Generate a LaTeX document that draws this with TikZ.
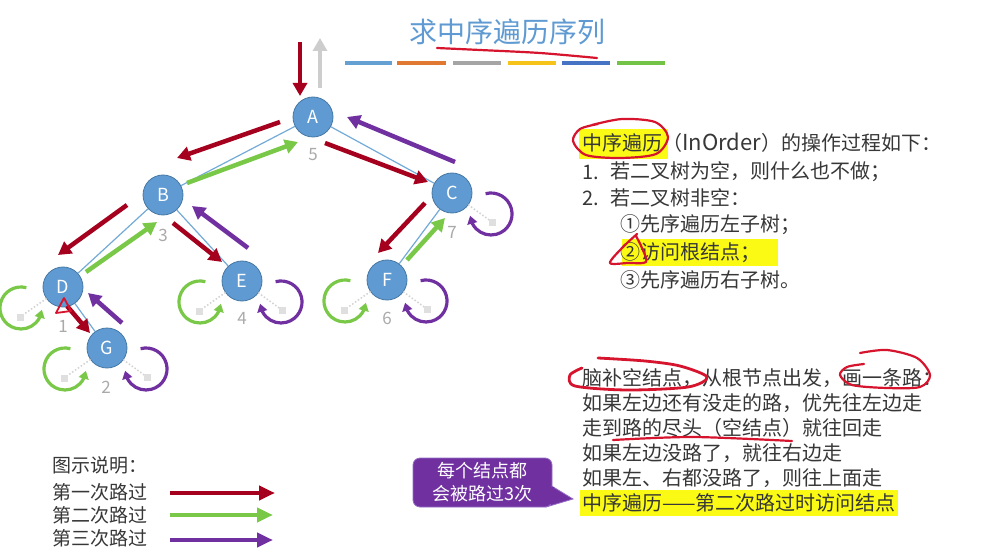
\documentclass[tikz,border=0pt]{standalone}
\usepackage{fontspec}
\setmainfont{Noto Sans CJK SC}
\usetikzlibrary{arrows.meta,calc,bending}
\definecolor{cred}{RGB}{165,0,30}
\definecolor{cgreen}{RGB}{122,200,72}
\definecolor{cpurple}{RGB}{112,48,160}
\definecolor{cgrayarr}{RGB}{205,205,205}
\definecolor{nodefill}{RGB}{95,155,210}
\definecolor{nodeline}{RGB}{70,120,165}
\definecolor{edgeblue}{RGB}{115,170,215}
\definecolor{numgray}{RGB}{170,170,170}
\definecolor{txtgray}{RGB}{55,55,55}
\definecolor{hlyellow}{RGB}{250,250,20}
\definecolor{inkred}{RGB}{215,20,45}
\definecolor{titleblue}{RGB}{95,155,210}
\definecolor{bubble}{RGB}{112,48,160}
\definecolor{bubbleline}{RGB}{150,110,200}
\definecolor{bar1}{RGB}{100,160,210}
\definecolor{bar2}{RGB}{225,120,50}
\definecolor{bar3}{RGB}{165,165,165}
\definecolor{bar4}{RGB}{245,195,25}
\definecolor{bar5}{RGB}{70,115,195}
\definecolor{bar6}{RGB}{115,195,70}
\tikzset{
  tnode/.style={circle, minimum size=40pt, inner sep=0pt, fill=nodefill, draw=nodeline, line width=0.8pt, text=white, font=\fontsize{18}{18}\selectfont},
  edge/.style={edgeblue, line width=1.2pt},
  trav/.style={line width=4.5pt, -{Triangle[length=13pt,width=14pt]}},
  loopst/.style={line width=3.2pt, -{Triangle[length=8pt,width=10pt,flex]}},
  nulldot/.style={gray!35, dotted, line width=1.5pt},
  nullsq/.style={fill=gray!25},
  num/.style={text=numgray, font=\fontsize{17}{17}\selectfont},
  txt/.style={anchor=west, inner sep=0pt, text=txtgray, font=\fontsize{20}{24}\selectfont},
  leg/.style={anchor=west, inner sep=0pt, text=txtgray, font=\fontsize{19}{22}\selectfont},
  ink/.style={inkred, line width=2.2pt, line cap=round, line join=round},
  hl/.style={fill=hlyellow},
  bar/.style={line width=4.5pt}
}
\newcommand\leftnull[1]{%
  \draw[nulldot] ($(#1)!20pt!($(#1)+(-43,30)$)$) -- ($(#1)+(-43,30)$);
  \fill[nullsq] ($(#1)+(-46.5,26.5)$) rectangle ($(#1)+(-39.5,33.5)$);
  \begin{scope}[y=1pt]
  \draw[loopst, cgreen] ($(#1)+(-42,-21)+(5.4,20.3)$) arc[start angle=75, end angle=355, radius=21];
  \end{scope}
}
\newcommand\rightnull[1]{%
  \draw[nulldot] ($(#1)!20pt!($(#1)+(40,29)$)$) -- ($(#1)+(40,29)$);
  \fill[nullsq] ($(#1)+(36.5,25.5)$) rectangle ($(#1)+(43.5,32.5)$);
  \begin{scope}[y=1pt]
  \draw[loopst, cpurple] ($(#1)+(39,-21)+(-5.4,20.3)$) arc[start angle=105, end angle=-175, radius=21];
  \end{scope}
}
\begin{document}
\begin{tikzpicture}[x=1pt,y=-1pt]
\useasboundingbox (0,0) rectangle (1002,559);
\fill[white] (0,0) rectangle (1002,559);

% title
\node[text=titleblue, font=\fontsize{28}{28}\selectfont] (title) at (507,32) {求中序遍历序列};
\draw[bar, bar1] (345,63) -- (392,63);
\draw[bar, bar2] (397,63) -- (446,63);
\draw[bar, bar3] (453,63) -- (501,63);
\draw[bar, bar4] (508,63) -- (556,63);
\draw[bar, bar5] (562,63) -- (610,63);
\draw[bar, bar6] (617,63) -- (665,63);
\draw[ink] plot[smooth] coordinates {(437,48) (480,50) (540,53) (597,58)};

% tree nodes
\node[tnode] (A) at (313,117) {A};
\node[tnode] (B) at (163,195) {B};
\node[tnode] (C) at (452,193) {C};
\node[tnode] (D) at (63,287) {D};
\node[tnode] (E) at (242,281) {E};
\node[tnode] (F) at (387,280) {F};
\node[tnode] (G) at (107,348) {G};

% edges
\draw[edge] (A) -- (B);
\draw[edge] (A) -- (C);
\draw[edge] (B) -- (D);
\draw[edge] (B) -- (E);
\draw[edge] (D) -- (G);
\draw[edge] (C) -- (F);

% numbers
\node[num] (n5) at (313,155) {5};
\node[num] (n3) at (163,235) {3};
\node[num] (n7) at (452,232) {7};
\node[num] (n1) at (63,326) {1};
\node[num] (n2) at (106,387) {2};
\node[num] (n4) at (242,318) {4};
\node[num] (n6) at (387,318) {6};

% traversal arrows
\coordinate (r0s) at (300,42);  \coordinate (r0e) at (300,96);
\coordinate (g0s) at (320,88);  \coordinate (g0e) at (320,38);
\coordinate (rABs) at (280,122); \coordinate (rABe) at (177,158);
\coordinate (gBAs) at (187,183); \coordinate (gBAe) at (298,142);
\coordinate (rACs) at (325,143); \coordinate (rACe) at (428,182);
\coordinate (pCAs) at (455,162); \coordinate (pCAe) at (347,117);
\coordinate (rBDs) at (127,205); \coordinate (rBDe) at (58,255);
\coordinate (gDBs) at (86,272);  \coordinate (gDBe) at (157,222);
\coordinate (rBEs) at (173,223); \coordinate (rBEe) at (222,262);
\coordinate (pEBs) at (248,248); \coordinate (pEBe) at (192,206);
\coordinate (rCFs) at (425,203); \coordinate (rCFe) at (378,253);
\coordinate (gFCs) at (407,260); \coordinate (gFCe) at (445,218);
\coordinate (rDGs) at (67,306);  \coordinate (rDGe) at (90,333);
\coordinate (pGDs) at (122,323); \coordinate (pGDe) at (88,293);
\draw[trav, cred] (r0s) -- (r0e);
\draw[trav, cgrayarr] (g0s) -- (g0e);
\draw[trav, cred] (rABs) -- (rABe);
\draw[trav, cgreen] (gBAs) -- (gBAe);
\draw[trav, cred] (rACs) -- (rACe);
\draw[trav, cpurple] (pCAs) -- (pCAe);
\draw[trav, cred] (rBDs) -- (rBDe);
\draw[trav, cgreen] (gDBs) -- (gDBe);
\draw[trav, cred] (rBEs) -- (rBEe);
\draw[trav, cpurple] (pEBs) -- (pEBe);
\draw[trav, cred] (rCFs) -- (rCFe);
\draw[trav, cgreen] (gFCs) -- (gFCe);
\draw[trav, cred] (rDGs) -- (rDGe);
\draw[trav, cpurple] (pGDs) -- (pGDe);

% null children loops
\leftnull{D}
\leftnull{G}
\rightnull{G}
\leftnull{E}
\rightnull{E}
\leftnull{F}
\rightnull{F}
\rightnull{C}

% ink triangle at D
\draw[ink, line width=1.8pt] (64,298) -- (56,313) -- (71,311) -- cycle;

% right text block 1
\fill[hl] (579,129) rectangle (668,159);
\fill[hl] (622,239) rectangle (778,266);
\node[txt] (t1) at (582,143) {中序遍历（{\fontsize{22}{24}\selectfont InOrder}）的操作过程如下：};
\node[txt] (t2a) at (582,172) {1.};
\node[txt] (t2) at (610,172) {若二叉树为空，则什么也不做；};
\node[txt] (t3a) at (582,198) {2.};
\node[txt] (t3) at (610,198) {若二叉树非空：};
\node[txt] (t4) at (620,225) {①先序遍历左子树；};
\node[txt] (t5) at (620,253) {②访问根结点；};
\node[txt] (t6) at (620,280) {③先序遍历右子树。};
\draw[ink] plot[smooth] coordinates {(592,125) (622,119) (655,122) (668,137) (656,154) (620,158) (586,155) (573,141) (580,129) (598,124)};
\draw[ink] plot[smooth] coordinates {(637,234) (622,248) (610,263) (628,263) (646,262) (642,248) (636,236)};

% right text block 2
\fill[hl] (580,490) rectangle (898,516);
\node[txt] (u1) at (582,378) {脑补空结点，从根节点出发，画一条路：};
\node[txt] (u2) at (582,403) {如果左边还有没走的路，优先往左边走};
\node[txt] (u3) at (582,428) {走到路的尽头（空结点）就往回走};
\node[txt] (u4) at (582,453) {如果左边没路了，就往右边走};
\node[txt] (u5) at (582,478) {如果左、右都没路了，则往上面走};
\node[txt] (u6) at (582,503) {中序遍历——第二次路过时访问结点};
\draw[ink, line width=2.8pt] plot[smooth] coordinates {(598,358) (645,361) (680,366) (707,377) (688,387) (627,390) (575,386) (570,375) (582,368)};
\draw[ink] plot[smooth] coordinates {(860,353) (887,350) (917,358) (930,375) (920,387) (887,388) (852,385) (840,375) (847,367) (864,364)};
\draw[ink] plot[smooth] coordinates {(613,440) (693,437) (792,441)};

% legend
\node[leg] (l0) at (52,465) {图示说明：};
\node[leg] (l1) at (52,492) {第一次路过};
\node[leg] (l2) at (52,515) {第二次路过};
\node[leg] (l3) at (52,538) {第三次路过};
\coordinate (a1s) at (170,493); \coordinate (a1e) at (275,493);
\coordinate (a2s) at (170,515); \coordinate (a2e) at (273,515);
\coordinate (a3s) at (170,540); \coordinate (a3e) at (273,540);
\draw[line width=4.5pt, cred, -{Triangle[length=16pt,width=14pt]}] (a1s) -- (a1e);
\draw[line width=4.5pt, cgreen, -{Triangle[length=16pt,width=14pt]}] (a2s) -- (a2e);
\draw[line width=4.5pt, cpurple, -{Triangle[length=16pt,width=14pt]}] (a3s) -- (a3e);

% bubble
\fill[bubble, draw=bubbleline, line width=0.8pt] (550,485) -- (573,499) -- (546,507) -- cycle;
\node[fill=bubble, draw=bubbleline, line width=0.8pt, rounded corners=7pt, minimum width=139pt, minimum height=49pt, inner sep=0pt, text=white, align=center, font=\fontsize{18}{23}\selectfont] (bub) at (482.5,482.5) {每个结点都\\会被路过3次};
\fill[bubble] (548,487) -- (554,487) -- (554,504) -- (548,504) -- cycle;
\end{tikzpicture}
\end{document}
